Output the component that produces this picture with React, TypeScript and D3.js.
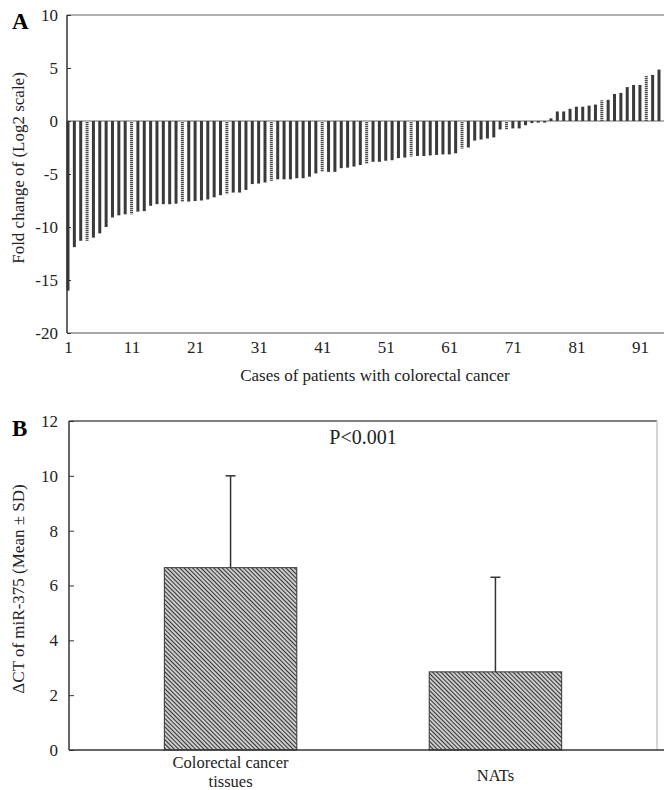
import React, { useEffect, useRef } from 'react';
import * as d3 from 'd3';

// Panel A: log2 fold change per case, sorted
const foldChange = [
  -16.0, -11.9, -11.3, -11.3, -11.0, -10.6, -10.0, -9.1, -8.9, -8.8,
  -8.8, -8.55, -8.5, -8.0, -7.85, -7.85, -7.85, -7.8, -7.65, -7.6,
  -7.55, -7.5, -7.4, -7.2, -7.0, -6.9, -6.75, -6.75, -6.5, -5.95,
  -5.9, -5.8, -5.65, -5.5, -5.5, -5.5, -5.4, -5.4, -5.25, -4.95,
  -4.8, -4.8, -4.8, -4.45, -4.4, -4.3, -4.15, -4.05, -3.85, -3.85,
  -3.75, -3.7, -3.5, -3.45, -3.35, -3.3, -3.3, -3.25, -3.2, -3.15,
  -3.15, -3.05, -2.6, -2.5, -1.85, -1.75, -1.65, -1.55, -0.8, -0.8,
  -0.7, -0.7, -0.4, -0.2, -0.15, -0.15, 0.25, 0.9, 0.9, 1.15,
  1.35, 1.35, 1.45, 1.55, 1.95, 2.0, 2.55, 2.65, 3.2, 3.4,
  3.4, 4.25, 4.35, 4.85,
];
const caseTicks = [1, 11, 21, 31, 41, 51, 61, 71, 81, 91];
const foldTicks = [10, 5, 0, -5, -10, -15, -20];
// bars that show the dotted (screened) look in the print
const dottedCases = [4, 11, 19, 26, 33, 41, 48, 55, 63, 70, 85, 92];

// Panel B: delta CT, mean and SD
const groupNames = ['Colorectal cancer tissues', 'NATs'];
const groupLines = [['Colorectal cancer', 'tissues'], ['NATs']];
const deltaCtMean = [6.65, 2.85];
const deltaCtSd = [3.35, 3.45];
const deltaCtTicks = [0, 2, 4, 6, 8, 10, 12];

const FONT = '"Liberation Serif", "Times New Roman", serif';

const App = () => {
  const svgRef = useRef<SVGSVGElement>(null);

  useEffect(() => {
    const svg = d3.select(svgRef.current);
    svg.selectAll('*').remove();

    const defs = svg.append('defs');
    const dot = defs.append('pattern')
      .attr('id', 'dotBar')
      .attr('patternUnits', 'userSpaceOnUse')
      .attr('width', 4)
      .attr('height', 2);
    dot.append('rect').attr('width', 4).attr('height', 2).attr('fill', '#c4c4c4');
    dot.append('rect').attr('width', 4).attr('height', 1).attr('fill', '#4a4a4a');

    const hatch = defs.append('pattern')
      .attr('id', 'hatch')
      .attr('patternUnits', 'userSpaceOnUse')
      .attr('width', 3)
      .attr('height', 3)
      .attr('patternTransform', 'rotate(45)');
    hatch.append('rect').attr('width', 3).attr('height', 3).attr('fill', '#fff');
    hatch.append('line')
      .attr('x1', 0).attr('x2', 3).attr('y1', 1.5).attr('y2', 1.5)
      .attr('stroke', '#333').attr('stroke-width', 1.5);

    // ---------- Panel A ----------
    const xA = d3.scaleLinear().domain([1, foldChange.length]).range([68, 659]);
    const yA = d3.scaleLinear().domain([-20, 10]).range([333, 15]);
    const a = svg.append('g');

    a.append('line').attr('x1', 67).attr('x2', 664).attr('y1', yA(10)).attr('y2', yA(10))
      .attr('stroke', '#999').attr('stroke-width', 1.5);
    a.append('line').attr('x1', 67).attr('x2', 664).attr('y1', yA(0)).attr('y2', yA(0))
      .attr('stroke', '#9a9a9a').attr('stroke-width', 1.5);
    a.append('line').attr('x1', 67).attr('x2', 664).attr('y1', yA(-20)).attr('y2', yA(-20))
      .attr('stroke', '#8a8a8a').attr('stroke-width', 1.5);

    a.append('g').selectAll('rect')
      .data(foldChange)
      .enter().append('rect')
      .attr('x', (d, i) => xA(i + 1) - 1.5)
      .attr('width', 3)
      .attr('y', d => Math.min(yA(d), yA(0)))
      .attr('height', d => Math.abs(yA(d) - yA(0)))
      .attr('fill', (d, i) => dottedCases.includes(i + 1) ? 'url(#dotBar)' : '#3a3a3a');

    a.append('line').attr('x1', 67).attr('x2', 67).attr('y1', yA(10)).attr('y2', yA(-20))
      .attr('stroke', '#333').attr('stroke-width', 1.5);

    const yAxisA = a.append('g')
      .attr('transform', 'translate(67,0)')
      .call(d3.axisLeft(yA).tickValues(foldTicks).tickSizeInner(-4).tickSizeOuter(0)
        .tickPadding(9).tickFormat(d => String(d)));
    yAxisA.select('.domain').remove();
    yAxisA.selectAll('line').attr('stroke', '#333');
    yAxisA.selectAll('text').attr('font-family', FONT).attr('font-size', 17).attr('fill', '#222');

    const xAxisA = a.append('g')
      .attr('transform', `translate(0,${yA(-20)})`)
      .call(d3.axisBottom(xA).tickValues(caseTicks).tickSize(0).tickPadding(8)
        .tickFormat(d => String(d)));
    xAxisA.select('.domain').remove();
    xAxisA.selectAll('text').attr('font-family', FONT).attr('font-size', 17).attr('fill', '#222');

    a.append('text')
      .attr('x', 375).attr('y', 381)
      .attr('text-anchor', 'middle')
      .attr('font-family', FONT).attr('font-size', 17).attr('fill', '#222')
      .text('Cases of patients with colorectal cancer');

    a.append('text')
      .attr('transform', 'translate(24,168) rotate(-90)')
      .attr('text-anchor', 'middle')
      .attr('font-family', FONT).attr('font-size', 17).attr('fill', '#222')
      .text('Fold change of (Log2 scale)');

    a.append('text')
      .attr('x', 12).attr('y', 29)
      .attr('font-family', FONT).attr('font-size', 23).attr('font-weight', 'bold')
      .text('A');

    // ---------- Panel B ----------
    const xB = d3.scaleBand().domain(groupNames).range([69, 657])
      .paddingInner(0.5).paddingOuter(0.36);
    const yB = d3.scaleLinear().domain([0, 12]).range([750, 421]);
    const b = svg.append('g');

    b.append('line').attr('x1', 69).attr('x2', 657).attr('y1', yB(12)).attr('y2', yB(12))
      .attr('stroke', '#555').attr('stroke-width', 1.5);
    b.append('line').attr('x1', 657).attr('x2', 657).attr('y1', yB(12)).attr('y2', yB(0))
      .attr('stroke', '#c8c8c8').attr('stroke-width', 1.5);

    groupNames.forEach((g, i) => {
      const x0 = xB(g) as number;
      const cx = x0 + xB.bandwidth() / 2;
      const top = deltaCtMean[i] + deltaCtSd[i];
      b.append('line').attr('x1', cx).attr('x2', cx)
        .attr('y1', yB(deltaCtMean[i])).attr('y2', yB(top))
        .attr('stroke', '#333').attr('stroke-width', 1.5);
      b.append('line').attr('x1', cx - 5).attr('x2', cx + 5)
        .attr('y1', yB(top)).attr('y2', yB(top))
        .attr('stroke', '#333').attr('stroke-width', 1.5);
      b.append('rect')
        .attr('x', x0).attr('width', xB.bandwidth())
        .attr('y', yB(deltaCtMean[i])).attr('height', yB(0) - yB(deltaCtMean[i]))
        .attr('fill', 'url(#hatch)').attr('stroke', '#333').attr('stroke-width', 1);

      const lines = groupLines[i];
      lines.forEach((t, k) => {
        b.append('text')
          .attr('x', cx)
          .attr('y', lines.length === 1 ? 781 : 768 + k * 19)
          .attr('text-anchor', 'middle')
          .attr('font-family', FONT).attr('font-size', 16.5).attr('fill', '#222')
          .text(t);
      });
    });

    b.append('line').attr('x1', 69).attr('x2', 69).attr('y1', yB(12)).attr('y2', yB(0))
      .attr('stroke', '#333').attr('stroke-width', 1.5);
    b.append('line').attr('x1', 69).attr('x2', 664).attr('y1', yB(0)).attr('y2', yB(0))
      .attr('stroke', '#333').attr('stroke-width', 1.5);

    const yAxisB = b.append('g')
      .attr('transform', 'translate(69,0)')
      .call(d3.axisLeft(yB).tickValues(deltaCtTicks).tickSizeInner(-5).tickSizeOuter(0)
        .tickPadding(11).tickFormat(d => String(d)));
    yAxisB.select('.domain').remove();
    yAxisB.selectAll('line').attr('stroke', '#333');
    yAxisB.selectAll('text').attr('font-family', FONT).attr('font-size', 17).attr('fill', '#222');

    b.append('text')
      .attr('x', 363).attr('y', 444)
      .attr('text-anchor', 'middle')
      .attr('font-family', FONT).attr('font-size', 20).attr('fill', '#222')
      .text('P<0.001');

    b.append('text')
      .attr('transform', 'translate(24,589) rotate(-90)')
      .attr('text-anchor', 'middle')
      .attr('font-family', FONT).attr('font-size', 17).attr('fill', '#222')
      .text('ΔCT of miR-375 (Mean ± SD)');

    b.append('text')
      .attr('x', 12).attr('y', 436)
      .attr('font-family', FONT).attr('font-size', 23).attr('font-weight', 'bold')
      .text('B');
  }, []);

  return (
    <svg
      ref={svgRef}
      width={664}
      height={790}
      style={{ position: 'absolute', left: 0, top: 0, background: '#fff' }}
    />
  );
};

export default App;
